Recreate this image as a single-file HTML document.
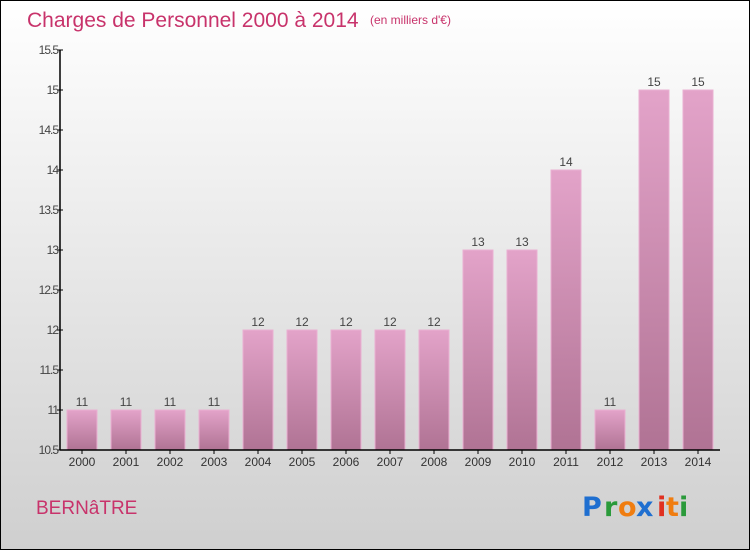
<!DOCTYPE html>
<html><head><meta charset="utf-8">
<style>
html,body{margin:0;padding:0;}
body{width:750px;height:550px;overflow:hidden;font-family:"Liberation Sans",sans-serif;}
#frame{position:absolute;left:0;top:0;width:748px;height:548px;border:1px solid #000;background:linear-gradient(#ffffff,#cfcfcf);}
</style></head>
<body>
<div id="frame">
<svg width="750" height="550" style="position:absolute;left:-1px;top:-1px">
<defs>
<linearGradient id="bg" x1="0" y1="0" x2="0" y2="1">
<stop offset="0" stop-color="#e3a3c9"/><stop offset="1" stop-color="#b07394"/>
</linearGradient>
</defs>
<text x="27" y="27" font-size="21" fill="#c8336b">Charges de Personnel 2000 à 2014</text>
<text x="370" y="24" font-size="12" fill="#c8336b">(en milliers d'€)</text>
<g id="plot"></g>
<text x="36" y="514" font-size="19" fill="#c8336b">BERNâTRE</text>
<g font-size="27" font-weight="bold" font-family="'DejaVu Sans',sans-serif">
<text x="582" y="516" fill="#1f6fd0">P</text><text x="604" y="516" fill="#2a9a3a">r</text><text x="618" y="516" fill="#f07d10">o</text><text x="636" y="516" fill="#1f6fd0">x</text><text x="657" y="516" fill="#e03020">i</text><text x="666" y="516" fill="#f07d10">t</text><text x="679" y="516" fill="#2a9a3a">i</text>
</g>
</svg>
</div>
<script>
const years=["2000","2001","2002","2003","2004","2005","2006","2007","2008","2009","2010","2011","2012","2013","2014"];
const values=[11,11,11,11,12,12,12,12,12,13,13,14,11,15,15];
const yTicks=[10.5,11,11.5,12,12.5,13,13.5,14,14.5,15,15.5];
const yTickLabels=["10.5","11","11.5","12","12.5","13","13.5","14","14.5","15","15.5"];
const NS="http://www.w3.org/2000/svg";
const plotG=document.getElementById('plot');
const x0=60,band=44,yMin=10.5,yMax=15.5,plotTop=50,plotBot=450;
function yS(v){return plotBot-(v-yMin)/(yMax-yMin)*(plotBot-plotTop);}
function xc(i){return x0+band*i+22;}
function mk(t,a){const e=document.createElementNS(NS,t);for(const k in a)e.setAttribute(k,a[k]);plotG.appendChild(e);return e;}
values.forEach((v,i)=>{
 const r=mk('rect',{x:xc(i)-15,y:yS(v),width:30,height:plotBot-yS(v),fill:'url(#bg)',stroke:'#eab0d2','stroke-width':1});
 
 
 const t=mk('text',{x:xc(i),y:yS(v)-4,'text-anchor':'middle','font-size':12,fill:'#444'});
 t.textContent=v;
 
 
 const xl=mk('text',{x:xc(i),y:plotBot+16,'text-anchor':'middle','font-size':12,fill:'#333'});
 xl.textContent=years[i];
 
 
 const tk=mk('line',{x1:xc(i),x2:xc(i),y1:plotBot,y2:plotBot+4,stroke:'#000'});
 
 
});
yTicks.forEach((v,i)=>{
 const tk=mk('line',{x1:x0-3,x2:x0+3,y1:yS(v),y2:yS(v),stroke:'#000'});
 
 
 const t=mk('text',{x:x0-2,y:yS(v)+4,'text-anchor':'end','font-size':12,fill:'#444','letter-spacing':'-1'});
 t.textContent=yTickLabels[i];
 
 
});
const ya=mk('line',{x1:x0,x2:x0,y1:plotTop,y2:plotBot,stroke:'#000','stroke-width':1.5});


const xa=mk('line',{x1:x0,x2:x0+band*years.length,y1:plotBot,y2:plotBot,stroke:'#000','stroke-width':1.5});


</script>
</body></html>
